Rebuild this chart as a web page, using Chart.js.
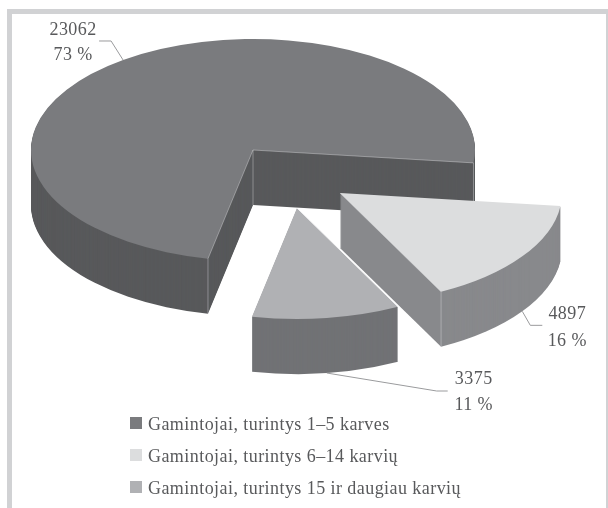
<!DOCTYPE html>
<html><head><meta charset="utf-8">
<style>html,body{margin:0;padding:0;background:#fff}#w{position:absolute;left:0;top:0;width:608px;height:508px}</style>
<script src="https://cdn.jsdelivr.net/npm/chart.js@4"></script></head>
<body><div id="w"><canvas id="c"></canvas></div>
<script>
const categories = ["Gamintojai, turintys 1–5 karves","Gamintojai, turintys 6–14 karvių","Gamintojai, turintys 15 ir daugiau karvių"];
const values = [23062, 4897, 3375];
const percentLabels = ["73 %","16 %","11 %"];
const topColors = ["#7a7b7e","#dcddde","#b0b1b4"];
const sideColors = ["#58595b","#88898c","#717275"];
const FONT = '"Liberation Serif"';
const TEXT = "#58595b";
const squash = 0.5, depth = 55;
// where each slice's apex sits after the 3D explode
const apex = [{x:253,y:150},{x:340,y:193},{x:297,y:208}];
// leader elbows relative to the rim anchor, then text centre relative to the anchor
const leader = [
 {pts:[[-12,-19],[-24,-19]], tx:-50, ty:[-30,-5]},
 {pts:[[8,14],[20,14]], tx:45, ty:[3,30]},
 {pts:[[110,18],[121,18]], tx:147, ty:[6,32]}
];
const explodedPie = {
 id:'explodedPie',
 afterLayout(chart){
  const l = chart.legend;
  l.left = 122; l.right = 600;
  l.top = 402; l.bottom = 620;
 },
 beforeDraw(chart){
  const c = chart.ctx;
  c.save();
  c.fillStyle = "#d1d2d4";
  c.fillRect(7,9,601,5);
  c.fillRect(7,9,5,499);
  c.fillRect(606,9,2,499);
  c.restore();
  c.letterSpacing = "0.44px";
 },
 beforeDatasetDraw(chart){
  const c = chart.ctx, arcs = chart.getDatasetMeta(0).data;
  // full-size legend swatches next to the library's legend rows
  chart.legend.legendHitBoxes.forEach((h,i)=>{
   c.fillStyle = topColors[i];
   c.fillRect(130, h.top+1, 12, 12);
  });
  arcs.forEach((a,i)=>{
   const P = apex[i], R = a.outerRadius;
   const path = dy=>{
    c.beginPath();
    c.moveTo(P.x, P.y+dy);
    c.ellipse(P.x, P.y+dy, R, R*squash, 0, a.startAngle, a.endAngle);
    c.closePath();
   };
   c.save();
   // walls: the slice swept downward, from the library's own arc geometry
   c.fillStyle = sideColors[i];
   for(let d=depth;d>0;d--){ path(d); c.fill(); }
   // top face: the library's arc element, squashed onto the apex
   c.save();
   c.translate(P.x,P.y); c.scale(1,squash); c.translate(-a.x,-a.y);
   a.draw(c);
   c.restore();
   // light edges
   const pt = ang=>[P.x+R*Math.cos(ang), P.y+R*squash*Math.sin(ang)];
   const s = pt(a.startAngle), e = pt(a.endAngle);
   c.strokeStyle = "rgba(225,226,228,.5)"; c.lineWidth = 0.8;
   c.beginPath();
   if(i===0){
    c.moveTo(s[0],s[1]); c.lineTo(P.x,P.y); c.lineTo(e[0],e[1]); c.lineTo(e[0],e[1]+depth);
    c.moveTo(s[0],s[1]); c.lineTo(s[0],s[1]+depth);
    c.moveTo(P.x,P.y); c.lineTo(P.x,P.y+depth);
   }
   if(i===1){
    c.moveTo(P.x,P.y); c.lineTo(e[0],e[1]); c.lineTo(e[0],e[1]+depth);
   }
   c.stroke();
   if(i===2){
    c.strokeStyle = "rgba(245,246,247,.95)"; c.lineWidth = 1;
    c.beginPath(); c.moveTo(P.x,P.y); c.lineTo(s[0],s[1]); c.stroke();
   }
   c.restore();
  });
  // leaders and value labels
  arcs.forEach((a,i)=>{
   const P = apex[i], R = a.outerRadius, mid = (a.startAngle+a.endAngle)/2;
   const ax = P.x+R*Math.cos(mid);
   const ay = P.y+R*squash*Math.sin(mid)+(i===0?0:depth);
   const L = leader[i];
   c.save();
   c.strokeStyle = "#9a9b9d"; c.lineWidth = 1;
   c.beginPath(); c.moveTo(ax,ay);
   L.pts.forEach(p=>c.lineTo(ax+p[0],ay+p[1]));
   c.stroke();
   c.fillStyle = TEXT; c.font = "18px "+FONT; c.textAlign="center"; c.textBaseline="middle";
   c.fillText(String(values[i]), ax+L.tx, ay+L.ty[0]);
   c.fillText(percentLabels[i], ax+L.tx, ay+L.ty[1]);
   c.restore();
  });
  return false;
 }
};
new Chart(document.getElementById('c'),{
 type:'pie',
 data:{labels:categories,datasets:[{data:values,backgroundColor:topColors,borderWidth:0}]},
 options:{
  responsive:true,maintainAspectRatio:false,animation:false,
  rotation:191.7,radius:222,
  layout:{padding:0},
  plugins:{
   tooltip:{enabled:false},
   legend:{position:'left',align:'start',
    labels:{boxWidth:3,boxHeight:6,padding:14,color:TEXT,font:{family:FONT,size:18}}}
  }
 },
 plugins:[explodedPie]
});
</script></body></html>
